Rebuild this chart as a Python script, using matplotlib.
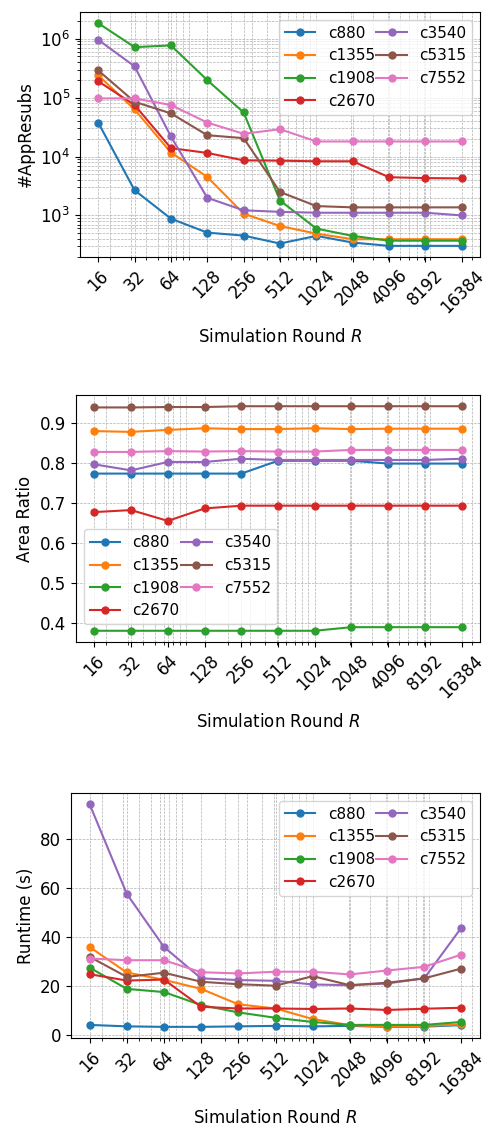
import matplotlib
matplotlib.use("Agg")
import matplotlib.pyplot as plt
import numpy as np

rounds = [16, 32, 64, 128, 256, 512, 1024, 2048, 4096, 8192, 16384]
circuits = ["c880", "c1355", "c1908", "c2670", "c3540", "c5315", "c7552"]

# #AppResubs
resub_c880 = [37700, 2680, 880, 510, 454, 333, 449, 346, 304, 304, 304]
resub_c1355 = [240000, 63000, 11700, 4500, 1070, 660, 490, 394, 394, 394, 394]
resub_c1908 = [1840000, 720000, 770000, 198000, 56000, 1790, 597, 449, 372, 372, 372]
resub_c2670 = [190000, 75000, 13900, 11500, 8600, 8500, 8300, 8300, 4450, 4300, 4250]
resub_c3540 = [960000, 340000, 21900, 1990, 1220, 1150, 1110, 1110, 1110, 1110, 1000]
resub_c5315 = [290000, 85000, 54000, 23000, 20500, 2500, 1440, 1370, 1370, 1370, 1370]
resub_c7552 = [97000, 97000, 75000, 37700, 24300, 29100, 18000, 18000, 18000, 18000, 18000]

# Area Ratio
area_c880 = [0.773, 0.773, 0.773, 0.773, 0.773, 0.805, 0.805, 0.805, 0.798, 0.798, 0.798]
area_c1355 = [0.879, 0.877, 0.882, 0.886, 0.884, 0.884, 0.886, 0.884, 0.885, 0.885, 0.885]
area_c1908 = [0.381, 0.381, 0.381, 0.381, 0.381, 0.381, 0.381, 0.390, 0.390, 0.390, 0.390]
area_c2670 = [0.677, 0.682, 0.655, 0.686, 0.693, 0.693, 0.693, 0.693, 0.693, 0.693, 0.693]
area_c3540 = [0.796, 0.781, 0.802, 0.802, 0.810, 0.807, 0.807, 0.807, 0.807, 0.807, 0.810]
area_c5315 = [0.938, 0.938, 0.939, 0.939, 0.941, 0.941, 0.941, 0.941, 0.941, 0.941, 0.941]
area_c7552 = [0.827, 0.827, 0.829, 0.828, 0.829, 0.828, 0.828, 0.832, 0.832, 0.832, 0.832]

# Runtime (s)
time_c880 = [4.1, 3.5, 3.3, 3.3, 3.5, 3.7, 3.5, 3.7, 3.3, 3.4, 4.0]
time_c1355 = [35.9, 25.5, 22.5, 18.8, 12.5, 10.8, 6.5, 4.0, 3.4, 3.7, 4.3]
time_c1908 = [27.5, 18.8, 17.5, 12.2, 9.2, 7.0, 5.3, 4.1, 4.1, 4.1, 5.3]
time_c2670 = [24.8, 22.2, 22.6, 11.5, 10.8, 10.8, 10.6, 10.8, 10.2, 10.7, 11.1]
time_c3540 = [94.2, 57.6, 35.9, 23.1, 22.4, 22.1, 20.6, 20.3, 21.0, 23.1, 43.8]
time_c5315 = [31.9, 23.7, 25.4, 21.7, 20.7, 20.1, 24.0, 20.3, 21.3, 23.1, 27.1]
time_c7552 = [31.2, 30.5, 30.5, 25.6, 25.1, 25.8, 25.8, 24.7, 26.3, 27.8, 32.8]

resubs = [resub_c880, resub_c1355, resub_c1908, resub_c2670, resub_c3540, resub_c5315, resub_c7552]
areas = [area_c880, area_c1355, area_c1908, area_c2670, area_c3540, area_c5315, area_c7552]
times = [time_c880, time_c1355, time_c1908, time_c2670, time_c3540, time_c5315, time_c7552]

W, H = 486, 1126
fig = plt.figure(figsize=(W / 100, H / 100), dpi=100)

def rect(l, t, r, b):
    return [l / W, 1 - b / H, (r - l) / W, (b - t) / H]

ax1 = fig.add_axes(rect(80, 12, 480, 257))
ax2 = fig.add_axes(rect(76, 395, 480, 642))
ax3 = fig.add_axes(rect(71, 793, 480, 1038))

def draw(ax, data, ylabel, logy=False, **leg):
    for name, vals in zip(circuits, data):
        ax.plot(rounds, vals, marker="o", markersize=5, linewidth=1.5, label=name)
    ax.set_xscale("log")
    if logy:
        ax.set_yscale("log")
    ax.set_xticks(rounds)
    ax.set_xticklabels([str(r) for r in rounds], rotation=45, fontsize=12)
    ax.tick_params(axis="y", labelsize=12)
    ax.grid(True, which="both", ls="--", lw=0.5, color="#b0b0b0")
    ax.set_xlabel("Simulation Round $R$", fontsize=12, labelpad=8)
    ax.set_ylabel(ylabel, fontsize=12)
    ax.legend(ncol=2, fontsize=11, columnspacing=0.1, handlelength=2.0, **leg)

draw(ax1, resubs, "#AppResubs", logy=True, loc="upper right")
draw(ax2, areas, "Area Ratio", loc="lower left", bbox_to_anchor=(0, 0.04))
draw(ax3, times, "Runtime (s)", loc="upper right")

fig.savefig("out.png", dpi=100)
